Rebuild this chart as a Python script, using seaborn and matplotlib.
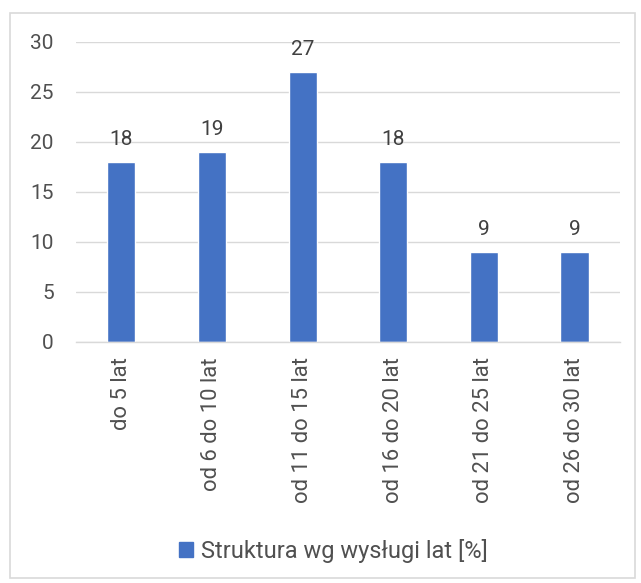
import matplotlib
matplotlib.use("Agg")
import matplotlib.pyplot as plt
import seaborn as sns
import pandas as pd
from matplotlib.patches import Rectangle, Patch

# ------------ DATA ------------
categories = ["do 5 lat", "od 6 do 10 lat", "od 11 do 15 lat",
              "od 16 do 20 lat", "od 21 do 25 lat", "od 26 do 30 lat"]
values = [18, 19, 27, 18, 9, 9]
series_name = "Struktura wg wysługi lat [%]"

BAR_COLOR = "#4472C4"
TEXT_COLOR = "#505050"
GRID_COLOR = "#D9D9D9"
FS = 15

sns.set_theme(style="white")
plt.rcParams["font.family"] = ["Roboto", "DejaVu Sans"]

df = pd.DataFrame({"kategoria": categories, "wartosc": values})

fig = plt.figure(figsize=(6.41, 5.83), dpi=100)
ax = fig.add_axes([0.1186, 0.4134, 0.8484, 0.5146])

sns.barplot(data=df, x="kategoria", y="wartosc", color=BAR_COLOR,
            width=0.31, saturation=1, ax=ax)

ax.set_ylim(0, 30)
ax.set_yticks(range(0, 31, 5))
ax.set_xlim(-0.5, len(categories) - 0.5)
ax.yaxis.grid(True, color=GRID_COLOR, linewidth=1)
ax.set_axisbelow(True)
for s in ["top", "right", "left"]:
    ax.spines[s].set_visible(False)
ax.spines["bottom"].set_color(GRID_COLOR)
ax.spines["bottom"].set_linewidth(1)
ax.set_xlabel("")
ax.set_ylabel("")
ax.tick_params(axis="both", length=0, labelsize=FS, colors=TEXT_COLOR)
ax.tick_params(axis="x", labelsize=15.8, pad=11)
ax.tick_params(axis="y", pad=16)
plt.setp(ax.get_xticklabels(), rotation=90, va="top", ha="center")

for c in ax.containers:
    ax.bar_label(c, labels=[str(v) for v in values], padding=9,
                 fontsize=FS, color="#404040")

# legend
fig.legend(handles=[Patch(color=BAR_COLOR, label=series_name)],
           loc="center", bbox_to_anchor=(0.52, 1 - 551 / 583), frameon=False,
           fontsize=17, labelcolor=TEXT_COLOR, handlelength=0.6,
           handleheight=0.6, handletextpad=0.3)

# chart border
fig.patches.append(Rectangle((10 / 641, 1 - 578 / 583), 625 / 641, 565 / 583,
                             transform=fig.transFigure, fill=False,
                             edgecolor=GRID_COLOR, linewidth=1.2))

fig.savefig("out.png", dpi=100)
